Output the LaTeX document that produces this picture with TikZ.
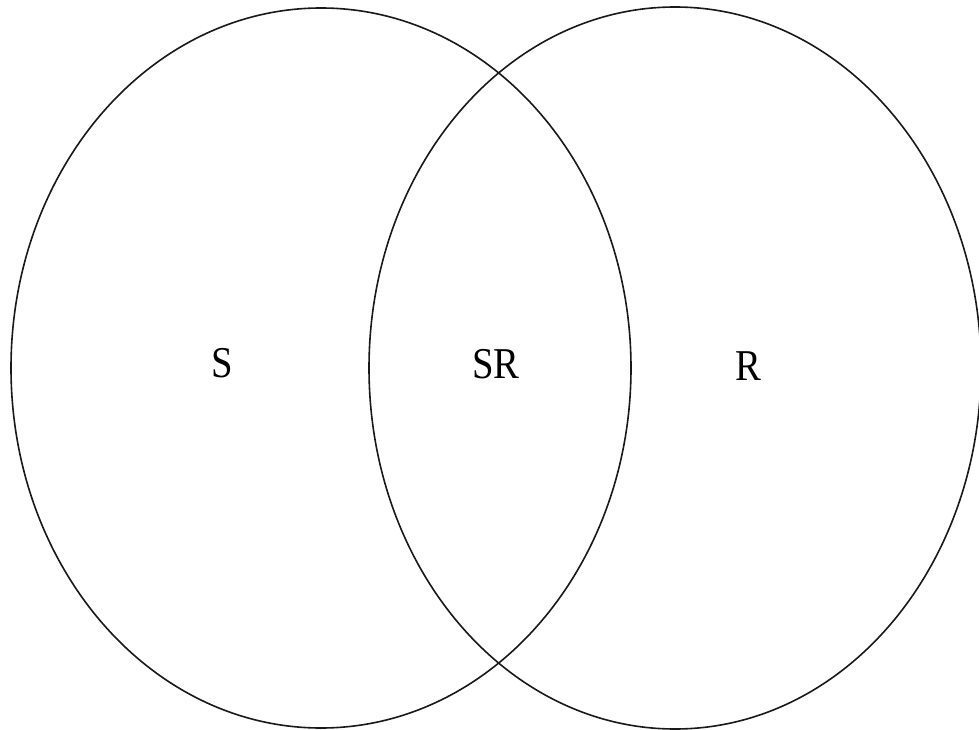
\documentclass[tikz,border=0pt]{standalone}
\usepackage{fontspec}
\setmainfont{Liberation Serif}
\begin{document}
\begin{tikzpicture}[x=1pt,y=-1pt,
  setline/.style={draw=black!90, line width=1.6pt},
  setlabel/.style={font=\fontsize{44}{48}\selectfont, anchor=base, inner sep=0pt, xscale=0.88}]
\useasboundingbox (0,0) rectangle (979,730);
\clip (0,0) rectangle (979,730);
\draw[setline] (321,368) ellipse [x radius=310, y radius=360];
\draw[setline] (675,368) ellipse [x radius=306, y radius=361];
\node[setlabel] (s) at (222,377) {S};
\node[setlabel] (sr) at (496,378) {SR};
\node[setlabel] (r) at (748,380) {R};
\end{tikzpicture}
\end{document}
